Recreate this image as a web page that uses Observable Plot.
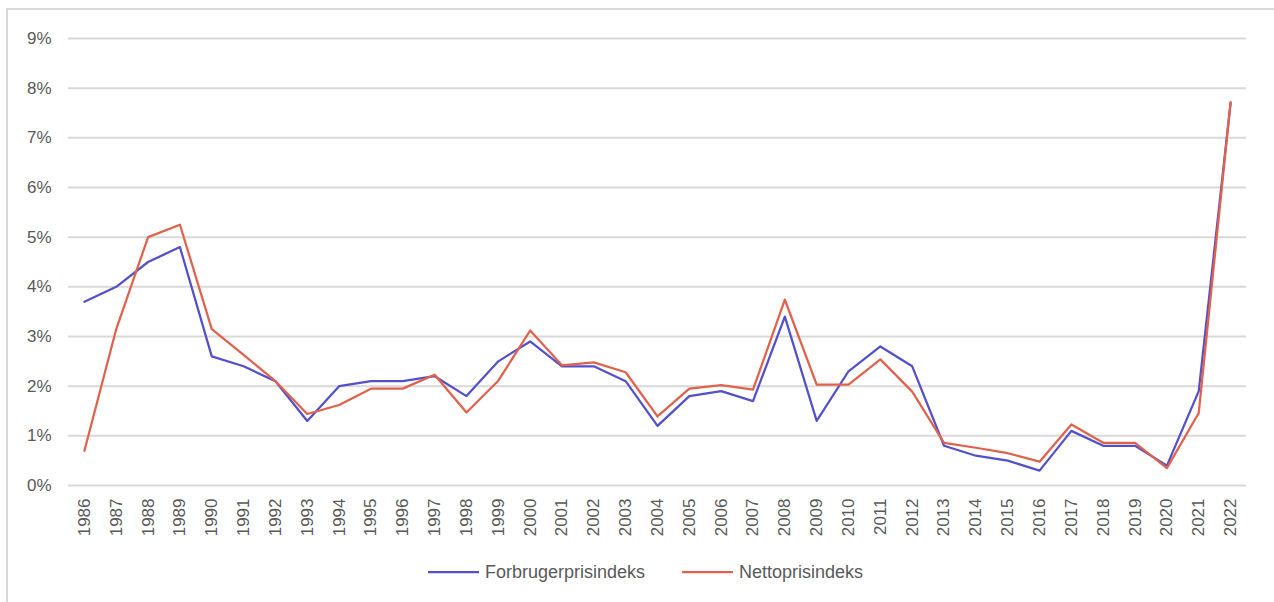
<!DOCTYPE html>
<html>
<head>
<meta charset="utf-8">
<script src="https://cdn.jsdelivr.net/npm/d3@7"></script>
<script src="https://cdn.jsdelivr.net/npm/@observablehq/plot@0.6"></script>
<style>
  html, body { margin: 0; padding: 0; background: #fff; overflow: hidden; }
  #wrap { position: relative; width: 1274px; height: 602px; overflow: hidden; font-family: "Liberation Sans", Arial, sans-serif; }
  #frame { position: absolute; left: 6px; top: 8px; width: 1400px; height: 800px; border: 2px solid #d9d9d9; box-sizing: border-box; }
  #chart { position: absolute; left: 0; top: 0; }
  #legend { position: absolute; left: 0; top: 559px; width: 1274px; height: 26px; }
  .item { position: absolute; top: 0; display: flex; align-items: center; height: 26px; font-size: 18px; color: #595959; }
  .item svg { margin-right: 6px; }
</style>
</head>
<body>
<div id="wrap">
  <div id="frame"></div>
  <div id="chart"></div>
  <div id="legend"></div>
</div>
<script>
const years = [1986,1987,1988,1989,1990,1991,1992,1993,1994,1995,1996,1997,1998,1999,2000,2001,2002,2003,2004,2005,2006,2007,2008,2009,2010,2011,2012,2013,2014,2015,2016,2017,2018,2019,2020,2021,2022];
const forbrugerprisindeks = [3.7,4.0,4.5,4.8,2.6,2.4,2.1,1.3,2.0,2.1,2.1,2.2,1.8,2.5,2.9,2.4,2.4,2.1,1.2,1.8,1.9,1.7,3.4,1.3,2.3,2.8,2.4,0.8,0.6,0.5,0.3,1.1,0.8,0.8,0.4,1.9,7.7];
const nettoprisindeks = [0.7,3.15,5.0,5.25,3.15,2.63,2.1,1.44,1.62,1.95,1.95,2.23,1.47,2.11,3.12,2.42,2.48,2.28,1.39,1.95,2.02,1.93,3.74,2.03,2.03,2.54,1.89,0.86,0.76,0.65,0.48,1.23,0.86,0.86,0.35,1.46,7.72];
const yTicks = [0,1,2,3,4,5,6,7,8,9];
const seriesNames = ["Forbrugerprisindeks", "Nettoprisindeks"];
const seriesColors = ["#5450c9", "#e0624c"];

const fpiData = years.map((y, i) => ({year: String(y), value: forbrugerprisindeks[i]}));
const npiData = years.map((y, i) => ({year: String(y), value: nettoprisindeks[i]}));

const chart = Plot.plot({
  width: 1274,
  height: 545,
  marginLeft: 68,
  marginRight: 28,
  marginTop: 38,
  marginBottom: 60,
  style: {fontFamily: '"Liberation Sans", Arial, sans-serif', fontSize: "17px", color: "#595959", background: "transparent"},
  x: {type: "point", domain: years.map(String), padding: 0.5, label: null},
  y: {domain: [0, 9], label: null},
  marks: [
    Plot.ruleY(yTicks, {stroke: "#d9d9d9", strokeWidth: 2}),
    Plot.axisY(yTicks, {tickSize: 0, tickPadding: 17, tickFormat: d => d + "%", label: null, fontSize: 17}),
    Plot.axisX({tickSize: 0, tickRotate: -90, tickPadding: 13, label: null, fontSize: 17}),
    Plot.line(fpiData, {x: "year", y: "value", stroke: seriesColors[0], strokeWidth: 2.25}),
    Plot.line(npiData, {x: "year", y: "value", stroke: seriesColors[1], strokeWidth: 2.25})
  ]
});
document.getElementById("chart").appendChild(chart);

const legend = document.getElementById("legend");
const lefts = [428, 682];
seriesNames.forEach((name, i) => {
  const item = document.createElement("div");
  item.className = "item";
  item.style.left = lefts[i] + "px";
  item.innerHTML = `<svg width="51" height="4"><line x1="0" y1="2" x2="51" y2="2" stroke="${seriesColors[i]}" stroke-width="2.25"/></svg><span>${name}</span>`;
  legend.appendChild(item);
});
</script>
</body>
</html>
